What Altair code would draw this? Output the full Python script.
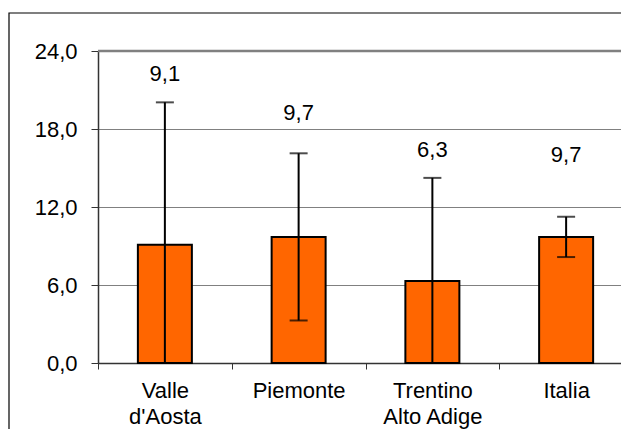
import altair as alt
import pandas as pd

categories = ["Valle\nd'Aosta", "Piemonte", "Trentino\nAlto Adige", "Italia"]
values = [9.1, 9.7, 6.3, 9.7]
errors = [10.95, 6.43, 7.94, 1.55]
label_y = [22.2, 19.2, 16.35, 16.0]
y_ticks = [0, 6, 12, 18, 24]
y_max = 24

df = pd.DataFrame({
    "cat": categories,
    "value": values,
    "err": errors,
    "label_y": label_y,
})
df["lower"] = df["value"] - df["err"]
df["upper"] = df["value"] + df["err"]
df["label"] = [f"{v:.1f}".replace(".", ",") for v in values]

FONT = "Liberation Sans"
FS = 22

xscale = alt.Scale(paddingInner=0, paddingOuter=0, range=[0, 535])
x = alt.X("cat:N", sort=categories, title=None, scale=xscale,
          axis=alt.Axis(labelAngle=0, tickBand="extent", tickSize=6,
                        labelPadding=11, labelLineHeight=26,
                        labelExpr="isValid(datum.value) ? split(datum.value, '\\n') : ''",
                        labelFontSize=FS, labelColor="black",
                        domainColor="#333333", domainWidth=1.5,
                        tickColor="#333333", tickWidth=1, grid=False))
yscale = alt.Scale(domain=[0, y_max], nice=False, zero=True)
yaxis = alt.Axis(values=y_ticks, title=None, tickSize=7, labelPadding=14,
                 labelExpr="replace(format(datum.value, '.1f'), '.', ',')",
                 labelFontSize=FS, labelColor="black",
                 domainColor="#333333", domainWidth=1.5,
                 tickColor="#333333", tickWidth=1,
                 grid=True, gridColor="#808080", gridWidth=1)

base = alt.Chart(df)

bars = base.mark_bar(size=54, color="#FF6600", stroke="black", strokeWidth=2).encode(
    x=x, y=alt.Y("value:Q", scale=yscale, axis=yaxis)
)
xs = alt.X("cat:N", sort=categories)
rules = base.mark_rule(color="black", strokeWidth=2, clip=True).encode(
    x=xs, y="lower:Q", y2="upper:Q"
)
cap_hi = base.mark_tick(color="black", size=18, thickness=2, clip=True).encode(
    x=xs, y="upper:Q"
)
cap_lo = base.mark_tick(color="black", size=18, thickness=2, clip=True).encode(
    x=xs, y="lower:Q"
)
labels = base.mark_text(fontSize=FS, font=FONT, color="black", baseline="middle").encode(
    x=xs, y="label_y:Q", text="label:N"
)
top_line = alt.Chart(pd.DataFrame({"a": [0]})).mark_rule(
    color="#808080", strokeWidth=2.5
).encode(y=alt.Y(datum=y_max), x=alt.value(0), x2=alt.value(540))
frame = alt.Chart(pd.DataFrame({"a": [0]})).mark_rect(
    fill="transparent", stroke="black", strokeWidth=1.2
).encode(
    x=alt.value(-89), x2=alt.value(600), y=alt.value(-38), y2=alt.value(440)
)

chart = alt.layer(frame, top_line, bars, rules, cap_hi, cap_lo, labels).properties(
    width=523, height=312,
    autosize=alt.AutoSizeParams(type="none"),
    padding={"left": 90, "top": 43, "right": 0, "bottom": 66},
).configure(font=FONT).configure_view(strokeWidth=0)

chart.save("out.html", embed_options={"renderer": "svg", "actions": False})
